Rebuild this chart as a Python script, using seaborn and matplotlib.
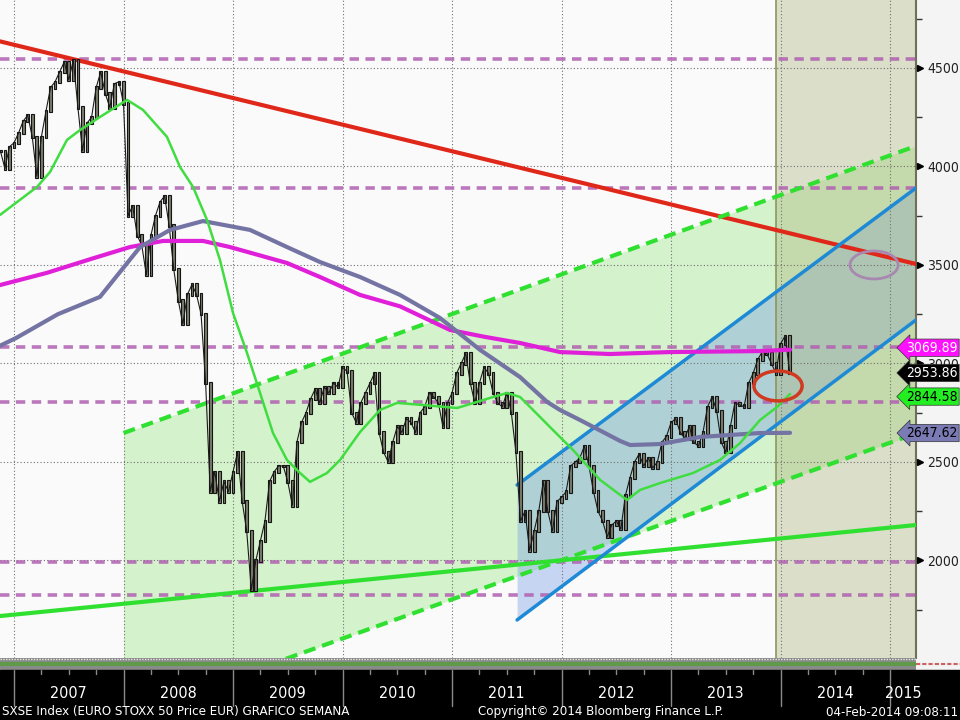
import numpy as np
import pandas as pd
import matplotlib
matplotlib.use("Agg")
import matplotlib.pyplot as plt
import matplotlib.transforms as mtransforms
from matplotlib import font_manager as fm
from matplotlib.patches import Ellipse, Rectangle
from matplotlib.lines import Line2D
import seaborn as sns

sns.set_theme(style="white")
plt.rcParams["font.family"] = ["Liberation Sans", "DejaVu Sans"]

# semi-monthly closes of SX5E, from mid Nov 2006 to early Feb 2014
START = 2006.875
closes = [
    4080, 3990, 4100,
    4120, 4170, 4230, 4260, 4150, 3950, 4150, 4280, 4400, 4430, 4480, 4530,
    4440, 4540, 4300, 4080, 4220, 4250, 4400, 4480, 4370, 4300, 4420, 4430,
    4320, 3750, 3800, 3650, 3600, 3450, 3650, 3750, 3820, 3850, 3700, 3480,
    3320, 3200, 3350, 3400, 3350, 3250, 2900, 2350, 2450, 2300, 2400, 2350,
    2450, 2550, 2300, 2150, 1850, 2000, 2100, 2200, 2400, 2450, 2480, 2480,
    2400, 2280, 2600, 2700, 2750, 2820, 2870, 2800, 2880, 2850, 2900, 2880,
    2980, 2960, 2750, 2700, 2800, 2850, 2900, 2950, 2650, 2550, 2500, 2600,
    2680, 2650, 2720, 2700, 2650, 2750, 2780, 2850, 2830, 2800, 2680, 2800,
    2850, 2950, 3000, 3050, 2900, 2800, 2900, 2980, 2950, 2850, 2800, 2780,
    2850, 2750, 2550, 2200, 2250, 2050, 2150, 2250, 2400, 2250, 2150, 2300,
    2320, 2350, 2480, 2500, 2520, 2580, 2480, 2350, 2250, 2200, 2120, 2180,
    2200, 2160, 2330, 2420, 2500, 2540, 2480, 2520, 2470, 2500, 2600, 2630,
    2700, 2720, 2650, 2620, 2680, 2600, 2580, 2650, 2780, 2830, 2760, 2600,
    2550, 2680, 2800, 2790, 2780, 2900, 2950, 3020, 3060, 3050, 3000, 2950,
    3100, 3140, 2954,
]

# moving averages (year, value)
ma_fast_x = [2006.872, 2007.210, 2007.329, 2007.484, 2007.603, 2007.785, 2008.032, 2008.178,
             2008.397, 2008.516, 2008.635, 2008.763, 2008.881, 2009.000, 2009.128, 2009.247,
             2009.365, 2009.493, 2009.612, 2009.703, 2009.858, 2009.977, 2010.160, 2010.342,
             2010.498, 2010.735, 2011.046, 2011.347, 2011.502, 2011.621, 2011.740, 2011.922,
             2012.105, 2012.352, 2012.598, 2012.717, 2012.900, 2013.201, 2013.447, 2013.630,
             2013.813, 2013.968, 2014.087]
ma_fast_y = [3754, 3896, 3972, 4135, 4185, 4251, 4338, 4287, 4150, 3997, 3896, 3728, 3525,
             3256, 3053, 2850, 2647, 2510, 2444, 2399, 2444, 2510, 2652, 2764, 2800, 2789,
             2774, 2825, 2850, 2830, 2764, 2662, 2561, 2409, 2307, 2358, 2393, 2444, 2510,
             2596, 2713, 2779, 2845]
ma_mid_x = [2006.872, 2007.018, 2007.400, 2007.785, 2008.151, 2008.425, 2008.726, 2009.155,
            2009.493, 2009.794, 2010.160, 2010.525, 2010.890, 2011.256, 2011.621, 2011.868,
            2011.986, 2012.169, 2012.534, 2012.626, 2012.900, 2013.265, 2013.813, 2014.087]
ma_mid_y = [3090, 3129, 3250, 3338, 3591, 3678, 3723, 3678, 3591, 3515, 3439, 3348, 3231,
            3069, 2931, 2805, 2764, 2713, 2607, 2586, 2591, 2627, 2647, 2648]
ma_slow_x = [2006.872, 2007.300, 2007.700, 2008.059, 2008.361, 2008.726, 2008.972, 2009.493,
             2009.794, 2010.160, 2010.525, 2010.982, 2011.300, 2011.621, 2011.986, 2012.443,
             2012.991, 2013.813, 2014.087]
ma_slow_y = [3398, 3460, 3530, 3591, 3622, 3622, 3591, 3510, 3439, 3348, 3290, 3170, 3135,
             3104, 3058, 3048, 3058, 3063, 3070]

# drawn trend lines: (x0, x1), (y0, y1)
red_x, red_y = [2006.872, 2015.237], [4635, 3505]
support_x, support_y = [2006.872, 2015.237], [1718, 2180]
chan_x = [2008.0, 2015.237]
chan_up, chan_lo = [2647, 4104], [1206, 2645]
blue_x = [2011.594, 2015.237]
blue_up, blue_lo = [2383, 3891], [1698, 3221]
levels = [4545, 3890, 3084, 2805, 1992, 1825]

future_start = 2013.96
xmin, xmax = 2006.872, 2015.237
ymin, ymax = 1505, 4845

tags = [("3069.89", 3080, "#ff10ff", "white"),
        ("2953.86", 2952, "black", "white"),
        ("2844.58", 2832, "#22ee22", "black"),
        ("2647.62", 2647, "#7a7ab4", "black")]
years = list(range(2006, 2016))


def narrow_font():
    # look for a condensed / narrow sans face, like the Bloomberg terminal font
    for f in fm.fontManager.ttflist:
        n = f.name
        if "Mono" in n or "Serif" in n:
            continue
        if ("Narrow" in n or "Condensed" in n or f.stretch in ("condensed", "semi-condensed")) \
                and f.style == "normal" and f.weight in (400, "normal", "regular", "book"):
            return fm.FontProperties(fname=f.fname)
    return None


fp = narrow_font()
if fp is None:
    fp = fm.FontProperties(family="Liberation Sans")
    shrink = 0.88
else:
    shrink = 1.0


def fprop(size):
    p = fp.copy()
    p.set_size(size * shrink)
    return p


fig = plt.figure(figsize=(9.6, 7.2), dpi=100, facecolor="#f4f4f4")
ax = fig.add_axes([0, 62 / 720, 916 / 960, 658 / 720])
ax.set_facecolor("#fafafa")
ax.set_xlim(xmin, xmax)
ax.set_ylim(ymin, ymax)

# shaded areas
ax.fill_between(chan_x, chan_lo, chan_up, color="#7fe060", alpha=0.3, lw=0, zorder=1)
ax.fill_between(blue_x, blue_lo, blue_up, color="#78a0e6", alpha=0.4, lw=0, zorder=1)
ax.axvspan(future_start, xmax, color="#aab27a", alpha=0.38, lw=0, zorder=1)
ax.axvline(future_start, color="#8a9660", lw=1.2, zorder=1.2)

# grid
for y in range(2000, 4501, 500):
    ax.axhline(y, color="#707070", ls=(0, (1, 2)), lw=0.8, zorder=1.5)
for yr in range(2007, 2016):
    ax.axvline(yr, color="#707070", ls=(0, (1, 2)), lw=0.8, zorder=1.5)

# levels and trend lines
for lv in levels:
    ax.axhline(lv, color="#b060b0", lw=2.6, ls=(0, (2.6, 1.8)), zorder=2, alpha=0.85)
ax.plot(red_x, red_y, color="#e0281a", lw=3, zorder=3)
ax.plot(support_x, support_y, color="#30e030", lw=3, zorder=3)
ax.plot(chan_x, chan_up, color="#30e030", lw=3, ls=(0, (2.9, 1.7)), zorder=3)
ax.plot(chan_x, chan_lo, color="#30e030", lw=3, ls=(0, (2.9, 1.7)), zorder=3)
ax.plot(blue_x, blue_up, color="#1e8ad6", lw=2.5, zorder=3)
ax.plot(blue_x, blue_lo, color="#1e8ad6", lw=2.5, zorder=3)

# price bars (body from previous close to close)
t = START + np.arange(len(closes)) / 24
prev = np.r_[closes[0], closes[:-1]]
lo = np.minimum(prev, closes)
hi = np.maximum(prev, closes)
ax.bar(t, hi - lo + 12, bottom=lo - 6, width=1 / 24 * 0.6, color="#7c7c6c",
       edgecolor="#151515", lw=0.8, zorder=4)
sns.lineplot(x=t, y=closes, color="#1a1a1a", lw=0.8, ax=ax, zorder=4)

# moving averages
ma = pd.concat([
    pd.DataFrame({"x": ma_slow_x, "y": ma_slow_y, "s": "slow"}),
    pd.DataFrame({"x": ma_mid_x, "y": ma_mid_y, "s": "mid"}),
])
sns.lineplot(data=ma, x="x", y="y", hue="s", palette={"slow": "#e020d8", "mid": "#7474a4"},
             lw=3, ax=ax, legend=False, sort=False, zorder=5)
sns.lineplot(x=ma_fast_x, y=ma_fast_y, color="#40dd40", lw=1.8, ax=ax, sort=False, zorder=5)

ax.add_patch(Ellipse((2013.977, 2886), 0.44, 152, fill=False, ec="#d03a20", lw=2.5, zorder=6))
ax.add_patch(Ellipse((2014.854, 3500), 0.44, 142, fill=False, ec="#a888b0", lw=2, zorder=6))

# axes styling
ax.set_xlabel("")
ax.set_ylabel("")
ax.set_xticks([])
for s in ["left", "top", "bottom"]:
    ax.spines[s].set_visible(False)
ax.spines["right"].set_color("#6e7058")
ax.spines["right"].set_linewidth(1.5)
ax.yaxis.tick_right()
yt = list(range(2000, 4501, 500))
ax.set_yticks(yt)
ax.set_yticklabels([str(v) for v in yt], fontproperties=fprop(10), color="#222")
ax.set_yticks(range(1750, 4751, 500), minor=True)
ax.tick_params(axis="y", which="major", length=0, pad=8)
ax.tick_params(axis="y", which="minor", length=4, width=1, color="#333", right=True)
btr = mtransforms.blended_transform_factory(ax.transAxes, ax.transData)
ax.plot([1.004] * len(yt), yt, transform=btr, marker=">", ms=4,
        color="black", ls="none", clip_on=False, zorder=7)

ftr = mtransforms.blended_transform_factory(fig.transFigure, ax.transData)
for txt, val, fc, tc in tags:
    ax.text(957.5 / 960, val, txt, transform=ftr, ha="right", va="center",
            fontproperties=fprop(10), color=tc, clip_on=False, zorder=8,
            bbox=dict(boxstyle="larrow,pad=0.12", fc=fc, ec="#333", lw=0.5))

# bottom band + time axis strip
band = fig.add_axes([0, 50 / 720, 916 / 960, 12 / 720])
band.set_xlim(xmin, xmax)
band.set_ylim(0, 1)
band.axis("off")
band.add_patch(Rectangle((xmin, 0), xmax - xmin, 1, color="#8a8a8a"))
band.axhline(0.5, color="#5f9a4a", lw=3)
band.axhline(0.95, color="#e8e8e8", lw=1, ls=(0, (1, 1)))

fig.patches.append(Rectangle((0, 0), 1, 50 / 720, transform=fig.transFigure,
                             color="black", zorder=0))
fig.lines.append(Line2D([916 / 960, 1], [56 / 720, 56 / 720], transform=fig.transFigure,
                        color="#d06060", lw=1.5, ls=(0, (2, 1))))

xtr = mtransforms.blended_transform_factory(ax.transData, fig.transFigure)
for yr in range(2007, 2016):
    fig.lines.append(Line2D([yr, yr], [50 / 720, 14 / 720], transform=xtr,
                            color="#8a8a8a", lw=1))
    for q in (0.25, 0.5, 0.75):
        if yr - 1 + q > xmin:
            fig.lines.append(Line2D([yr - 1 + q] * 2, [50 / 720, 46 / 720], transform=xtr,
                                    color="#8a8a8a", lw=1))
for yr in years:
    xpos = min(yr + 0.5, 2015.12)
    fig.text(xpos, 26 / 720, str(yr), transform=xtr, ha="center", va="center",
             color="white", fontproperties=fprop(11.5))

fig.text(2 / 960, 8 / 720, "SXSE Index (EURO STOXX 50 Price EUR) GRAFICO SEMANA",
         color="white", fontproperties=fprop(9.5), va="center", ha="left")
fig.text(478 / 960, 8 / 720, "Copyright\u00a9 2014 Bloomberg Finance L.P.",
         color="white", fontproperties=fprop(9.5), va="center", ha="left")
fig.text(958 / 960, 8 / 720, "04-Feb-2014 09:08:11",
         color="white", fontproperties=fprop(9.5), va="center", ha="right")

fig.savefig("out.png", dpi=100, facecolor=fig.get_facecolor())
